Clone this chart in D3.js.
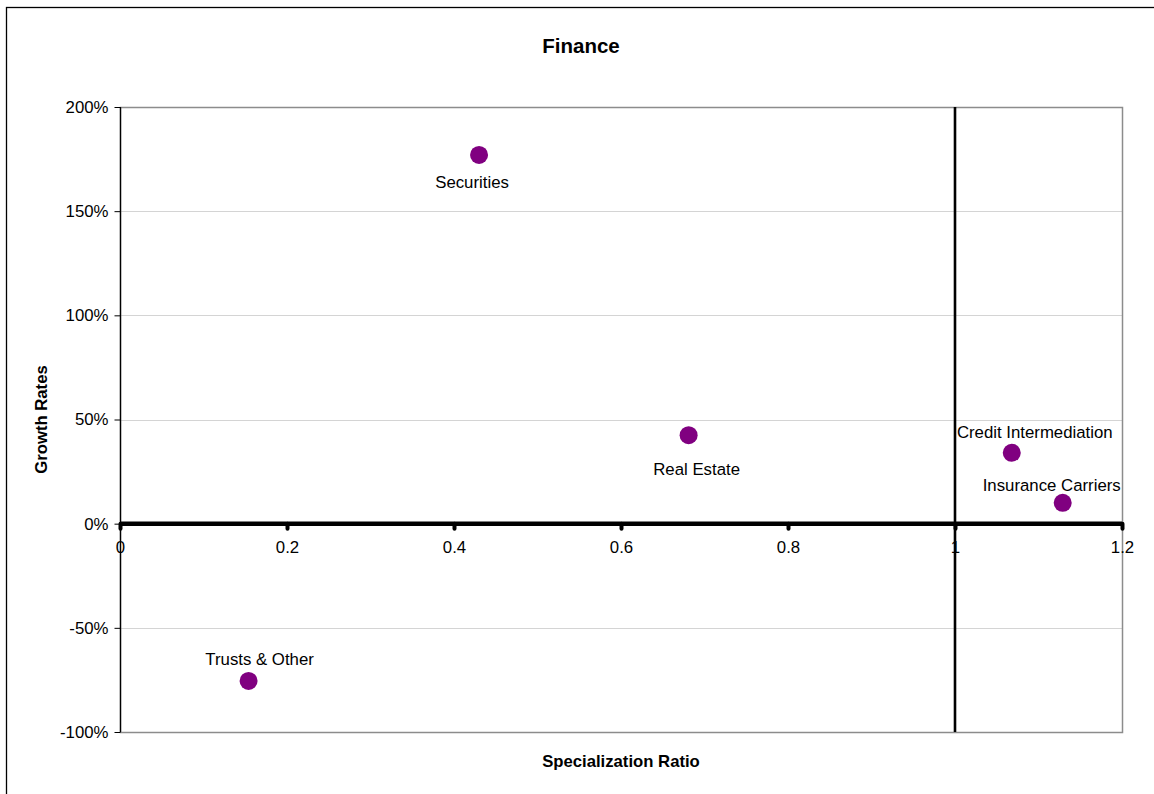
<!DOCTYPE html>
<html>
<head>
<meta charset="utf-8">
<script src="https://cdn.jsdelivr.net/npm/d3@7"></script>
<style>
  html, body { margin: 0; padding: 0; background: #fff; }
  svg { display: block; font-family: Arial, "Liberation Sans", sans-serif; }
</style>
</head>
<body>
<svg id="chart" width="1154" height="794"></svg>
<script>
// ---- data ----
const sectors = ["Securities", "Real Estate", "Credit Intermediation", "Insurance Carriers", "Trusts & Other"];
const specializationRatio = [0.43, 0.681, 1.068, 1.129, 0.154];
const growthRate = [1.77, 0.425, 0.34, 0.10, -0.755];
const xTicks = [0, 0.2, 0.4, 0.6, 0.8, 1, 1.2];
const xTickLabels = ["0", "0.2", "0.4", "0.6", "0.8", "1", "1.2"];
const yTicks = [-1, -0.5, 0, 0.5, 1, 1.5, 2];
const yTickLabels = ["-100%", "-50%", "0%", "50%", "100%", "150%", "200%"];
const chartTitle = "Finance";
const xTitle = "Specialization Ratio";
const yTitle = "Growth Rates";

// ---- layout ----
const svg = d3.select("#chart");
const plot = { left: 120, right: 1122, top: 107, bottom: 732 };
const FS = 16.8;

// outer chart border
svg.append("rect").attr("x", 6.5).attr("y", 7.5).attr("width", 1160).attr("height", 800)
  .attr("fill", "none").attr("stroke", "#000").attr("stroke-width", 1.3);

const x = d3.scaleLinear().domain([0, 1.2]).range([plot.left, plot.right]);
const y = d3.scaleLinear().domain([-1, 2]).range([plot.bottom, plot.top]);

// gridlines
svg.append("g").selectAll("line").data(yTicks.filter(d => d !== 0 && d !== -1 && d !== 2)).join("line")
  .attr("x1", plot.left).attr("x2", plot.right)
  .attr("y1", d => Math.round(y(d)) + 0.5).attr("y2", d => Math.round(y(d)) + 0.5)
  .attr("stroke", "#d4d4d4").attr("stroke-width", 1);

// plot area border (gray)
svg.append("rect")
  .attr("x", plot.left + 0.5).attr("y", plot.top + 0.5)
  .attr("width", plot.right - plot.left).attr("height", plot.bottom - plot.top)
  .attr("fill", "none").attr("stroke", "#8c8c8c").attr("stroke-width", 1.5);

// y axis
const yAxis = d3.axisLeft(y).tickValues(yTicks).tickSize(6).tickPadding(6)
  .tickFormat((d, i) => yTickLabels[i]);
const gy = svg.append("g").attr("transform", `translate(${plot.left + 0.5},0)`).call(yAxis);
gy.select(".domain").attr("stroke", "#000").attr("stroke-width", 1.3).attr("d", `M0,${plot.top}V${plot.bottom}`);
gy.selectAll(".tick line").attr("stroke", "#000");
gy.selectAll(".tick text").attr("font-size", FS).attr("fill", "#000")
  .attr("font-family", "Arial, 'Liberation Sans', sans-serif");

// vertical reference line at x = 1
svg.append("line")
  .attr("x1", x(1)).attr("x2", x(1)).attr("y1", plot.top).attr("y2", plot.bottom)
  .attr("stroke", "#000").attr("stroke-width", 2.6);

// x axis at y = 0 (thick)
const xAxis = d3.axisBottom(x).tickValues(xTicks).tickSize(7).tickPadding(10)
  .tickFormat((d, i) => xTickLabels[i]);
const gx = svg.append("g").attr("transform", `translate(0,${y(0)})`).call(xAxis);
gx.select(".domain").attr("stroke", "#000").attr("stroke-width", 4.5).attr("d", `M${plot.left},0H${plot.right}`);
gx.selectAll(".tick line").attr("stroke", "#000").attr("stroke-width", 4).attr("stroke-linecap", "round").attr("y2", 5);
gx.selectAll(".tick text").attr("font-size", FS).attr("fill", "#000")
  .attr("font-family", "Arial, 'Liberation Sans', sans-serif");

// points
const pts = sectors.map((s, i) => ({ name: s, sx: specializationRatio[i], gy: growthRate[i] }));
svg.append("g").selectAll("circle").data(pts).join("circle")
  .attr("cx", d => x(d.sx)).attr("cy", d => y(d.gy)).attr("r", 9)
  .attr("fill", "#800080");

// labels (placement relative to each point, as in the original)
const labelPlacement = {
  "Securities": { dx: -7, dy: 33 },
  "Real Estate": { dx: 8, dy: 40 },
  "Credit Intermediation": { dx: 23, dy: -15 },
  "Insurance Carriers": { dx: -11, dy: -12 },
  "Trusts & Other": { dx: 11, dy: -16 }
};
svg.append("g").selectAll("text").data(pts).join("text")
  .attr("x", d => x(d.sx) + labelPlacement[d.name].dx)
  .attr("y", d => y(d.gy) + labelPlacement[d.name].dy)
  .attr("text-anchor", "middle").attr("font-size", FS).attr("fill", "#000")
  .text(d => d.name);

// titles
svg.append("text").attr("x", 581).attr("y", 53).attr("text-anchor", "middle")
  .attr("font-size", 20.5).attr("font-weight", "bold").text(chartTitle);
svg.append("text").attr("x", (plot.left + plot.right) / 2).attr("y", 767).attr("text-anchor", "middle")
  .attr("font-size", 16.7).attr("font-weight", "bold").text(xTitle);
svg.append("text").attr("transform", `translate(47,${(plot.top + plot.bottom) / 2}) rotate(-90)`)
  .attr("text-anchor", "middle").attr("font-size", 16.7).attr("font-weight", "bold").text(yTitle);
</script>
</body>
</html>
